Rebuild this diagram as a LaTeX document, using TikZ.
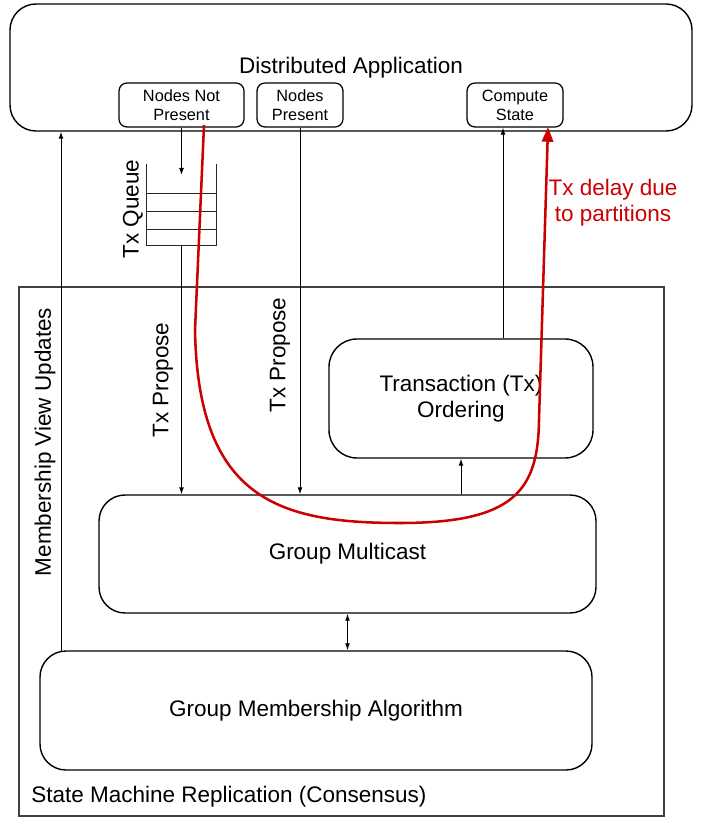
\documentclass[tikz,border=0pt]{standalone}
\usepackage{fontspec}
\setmainfont{Liberation Sans}
\usetikzlibrary{arrows.meta}
\definecolor{delayred}{RGB}{204,0,0}

\begin{document}
\begin{tikzpicture}[
		box/.style={draw,rounded corners=0.65cm,line width=1pt,inner sep=0pt,align=center,font=\fontsize{16}{18.5}\selectfont},
		smallbox/.style={draw,rounded corners=0.2cm,line width=0.9pt,inner sep=0pt,align=center,font=\fontsize{11.6}{13.5}\selectfont},
		lbl/.style={font=\fontsize{16}{18.5}\selectfont,inner sep=0pt},
		arr/.style={-{Latex[length=5pt,width=3.5pt]},line width=0.7pt},
		delay/.style={-{Triangle[length=10.5pt,width=8pt]},line width=1.8pt,draw=delayred}
	]
			\useasboundingbox (0,0) rectangle (17.55,-20.475);

			% application layer
			\node[box,minimum width=17.05cm,minimum height=3.175cm] (app) at (8.775,-1.6875){\raisebox{-2pt}{Distributed Application}};
			\node[smallbox,minimum width=3.125cm,minimum height=1.1cm] (nnp) at (4.5375,-2.625){Nodes Not\\Present};
			\node[smallbox,minimum width=2.15cm,minimum height=1.1cm] (np) at (7.5,-2.625){Nodes\\Present};
			\node[smallbox,minimum width=2.4cm,minimum height=1.1cm] (cs) at (12.875,-2.625){Compute\\State};

			% queue
			\node[minimum width=1.725cm,minimum height=2.025cm,inner sep=0pt] (queue) at (4.5375,-5.1125){};
			\draw[line width=0.7pt,draw=black!85] (queue.north west) -- (queue.south west) -- (queue.south east) -- (queue.north east);
			\foreach \y in {-4.825,-5.275,-5.725}
				\draw[line width=0.7pt,draw=black!85] (queue.west |- 0,\y) -- (queue.east |- 0,\y);
			\node[lbl,rotate=90] (qlbl) at (3.325,-5.225){Tx Queue};
			\coordinate (qin) at (4.5375,-4.375);

			% consensus layer
			\draw[line width=0.9pt,draw=black!75] (0.475,-7.175) rectangle (16.6,-20.4);
			\node[lbl,anchor=west] (smr) at (0.775,-19.925){State Machine Replication (Consensus)};
			\node[box,rounded corners=0.7cm,minimum width=6.6cm,minimum height=2.975cm] (txo) at (11.525,-9.9625){Transaction (Tx)\\Ordering};
			\node[box,minimum width=12.425cm,minimum height=2.95cm] (gm) at (8.6875,-13.85){\raisebox{-2pt}{Group Multicast}};
			\node[box,minimum width=13.8cm,minimum height=2.975cm] (gma) at (7.9,-17.7625){\raisebox{-2pt}{Group Membership Algorithm}};

			% connectors
			\draw[arr] (nnp.south) -- (qin);
			\draw[arr] (queue.south) -- (queue.south |- gm.north);
			\draw[arr] (np.south) -- (np.south |- gm.north);
			\node[lbl,rotate=90] (prop1) at (4.075,-9.5){Tx Propose};
			\node[lbl,rotate=90] (prop2) at (7.0,-8.875){Tx Propose};
			\coordinate (mv) at (1.525,-16.275);
			\draw[arr] (mv) -- (mv |- app.south);
			\node[lbl,rotate=90] (mvlbl) at (1.125,-11.05){Membership View Updates};
			\draw[arr] ([xshift=-0.3cm]cs.south |- txo.north) -- ([xshift=-0.3cm]cs.south);
			\draw[arr] (txo.south |- gm.north) -- (txo.south);
			\draw[arr,<->,>={Latex[length=5pt,width=3.5pt]}] (gm.south) -- (gm.south |- gma.north);

			% partition delay
			\coordinate (dstart) at (5.1,-3.125);
			\coordinate (dend) at (13.7,-3.175);
			\draw[delay] (dstart) -- (4.875,-8.25) .. controls (4.95,-12.5) and (7.0,-13.075) .. (10.0,-13.075)
				.. controls (12.875,-13.075) and (13.45,-12.25) .. (13.475,-10.5) -- (dend);
			\node[lbl,align=center,text=delayred] (dlbl) at (15.325,-5.075){Tx delay due\\to partitions};
		\end{tikzpicture}
\end{document}
